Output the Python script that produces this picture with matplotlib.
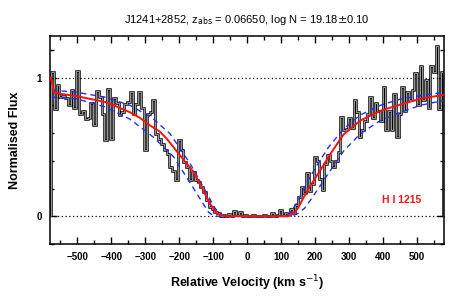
import numpy as np
import matplotlib
matplotlib.use('Agg')
import matplotlib.pyplot as plt
import matplotlib.patheffects as pe
from matplotlib.ticker import MultipleLocator

# observed spectrum, three stretches of the velocity axis (km/s)
blue_wing_range = (-578, -88)
blue_wing_flux = [1.04, 0.775, 0.95, 0.86, 0.87, 0.85, 0.80, 0.91, 0.78, 1.045,
                  0.74, 0.76, 0.70, 0.71, 0.82, 0.655, 0.90, 0.86, 0.74, 0.55,
                  0.92, 0.56, 0.85, 0.82, 0.73, 0.75, 0.81, 0.825, 0.894, 0.74,
                  0.81, 0.894, 0.78, 0.475, 0.74, 0.75, 0.835, 0.595, 0.56, 0.52,
                  0.48, 0.45, 0.355, 0.33, 0.26, 0.547, 0.48, 0.39, 0.355, 0.26,
                  0.32, 0.26, 0.25, 0.21, 0.175, 0.115, 0.067, 0.05, 0.03]
core_range = (-88, 142)
core_flux = [0.02, 0.005, 0.01, 0.0, 0.015, 0.0, 0.035, 0.01, 0.03, 0.005,
             0.01, 0.0, 0.005, 0.01, 0.0, 0.005, 0.0, 0.01, 0.0, 0.005,
             0.02, 0.005, 0.01, 0.045, 0.01, 0.02, 0.015, 0.05, 0.02]
red_wing_range = (142, 578)
red_wing_flux = [0.08, 0.14, 0.21, 0.17, 0.31, 0.18, 0.235, 0.43, 0.40, 0.27,
                 0.19, 0.38, 0.445, 0.40, 0.355, 0.40, 0.46, 0.715, 0.62, 0.63,
                 0.71, 0.64, 0.835, 0.75, 0.57, 0.62, 0.69, 0.74, 0.86, 0.71,
                 0.82, 0.76, 0.69, 0.93, 0.62, 0.76, 0.62, 0.88, 0.57, 0.74,
                 0.93, 0.76, 0.894, 0.835, 0.91, 1.03, 0.80, 1.085, 0.835, 0.98,
                 0.78, 1.085, 1.04, 1.23, 0.775, 1.04]

# best fit Voigt profile (log N = 19.18)
fit_v = [-578, -568, -502, -414, -345, -316, -286, -257, -237, -198, -158, -139,
         -120, -109, -89, -70, -50, 0, 100, 120, 137, 150, 165, 186, 215, 245,
         284, 333, 392, 451, 510, 578]
fit_f = [1.0, 0.89, 0.866, 0.822, 0.75, 0.71, 0.655, 0.61, 0.56, 0.44, 0.32, 0.235,
         0.14, 0.09, 0.02, 0.003, 0.0, 0.0, 0.0, 0.0, 0.02, 0.06, 0.13, 0.22, 0.33, 0.45,
         0.59, 0.69, 0.76, 0.806, 0.847, 0.876]

# +-0.10 dex profiles
low_v = [-575, -502, -420, -345, -280, -227, -168, -124, -94, -75, -60, 0, 110,
         125, 147, 175, 206, 240, 284, 333, 392, 451, 510, 578]
low_f = [0.91, 0.894, 0.86, 0.80, 0.71, 0.595, 0.38, 0.187, 0.055, 0.01, 0.0, 0.0, 0.0,
         0.02, 0.10, 0.24, 0.37, 0.50, 0.63, 0.73, 0.80, 0.845, 0.87, 0.894]
high_v = [-575, -502, -420, -345, -276, -217, -148, -114, -100, -85, 0, 130,
          150, 170, 186, 215, 245, 284, 333, 392, 451, 510, 578]
high_f = [0.86, 0.847, 0.79, 0.70, 0.57, 0.43, 0.163, 0.03, 0.005, 0.0, 0.0, 0.0,
          0.02, 0.06, 0.115, 0.22, 0.33, 0.47, 0.595, 0.69, 0.75, 0.80, 0.835]

edges = np.concatenate([
    np.linspace(*blue_wing_range, len(blue_wing_flux) + 1)[:-1],
    np.linspace(*core_range, len(core_flux) + 1)[:-1],
    np.linspace(*red_wing_range, len(red_wing_flux) + 1)])
flux = np.array(blue_wing_flux + core_flux + red_wing_flux)

plt.rcParams['font.family'] = ['Liberation Sans', 'DejaVu Sans']

fig = plt.figure(figsize=(4.69, 3.05), dpi=100)
ax = fig.add_axes([0.107, 0.2, 0.84, 0.682])

ax.axhline(1, color='black', linestyle=(0, (1, 2)), linewidth=0.9, zorder=1)
ax.axhline(0, color='black', linestyle=(0, (1, 2)), linewidth=0.9, zorder=1)

ax.stairs(flux, edges, color='#9a9a9a', linewidth=0.7, zorder=2,
          path_effects=[pe.Stroke(linewidth=1.8, foreground='black'), pe.Normal()])

ax.plot(low_v, low_f, color='#1f2fff', linestyle=(0, (4, 3)), linewidth=1.0, zorder=3)
ax.plot(high_v, high_f, color='#1f2fff', linestyle=(0, (4, 3)), linewidth=1.0, zorder=3)
ax.plot(fit_v, fit_f, color='#ff1010', linewidth=1.4, zorder=4)

ax.text(455, 0.115, 'H I 1215', color='#ff1010', fontsize=7.5, fontweight='bold',
        ha='center', va='center')

ax.set_xlim(-580, 580)
ax.set_ylim(-0.2, 1.3)
ax.xaxis.set_major_locator(MultipleLocator(100))
ax.xaxis.set_minor_locator(MultipleLocator(50))
ax.yaxis.set_major_locator(MultipleLocator(1))
ax.yaxis.set_minor_locator(MultipleLocator(0.2))
ax.tick_params(which='both', direction='in', top=True, right=True, width=1.0,
               labelsize=7, pad=6)
ax.tick_params(which='major', length=5)
ax.tick_params(which='minor', length=3)
for lab in ax.get_xticklabels() + ax.get_yticklabels():
    lab.set_fontweight('bold')
for s in ax.spines.values():
    s.set_linewidth(1.1)

ax.set_xlabel('Relative Velocity (km s$^{-1}$)', fontsize=9, fontweight='bold', labelpad=8)
ax.set_ylabel('Normalised Flux', fontsize=9, fontweight='bold', labelpad=11)
ax.set_title(r'J1241+2852, z$_{\rm abs}$ = 0.06650, log N = 19.18$\pm$0.10',
             fontsize=8, pad=9)

plt.savefig('out.png', dpi=100)
